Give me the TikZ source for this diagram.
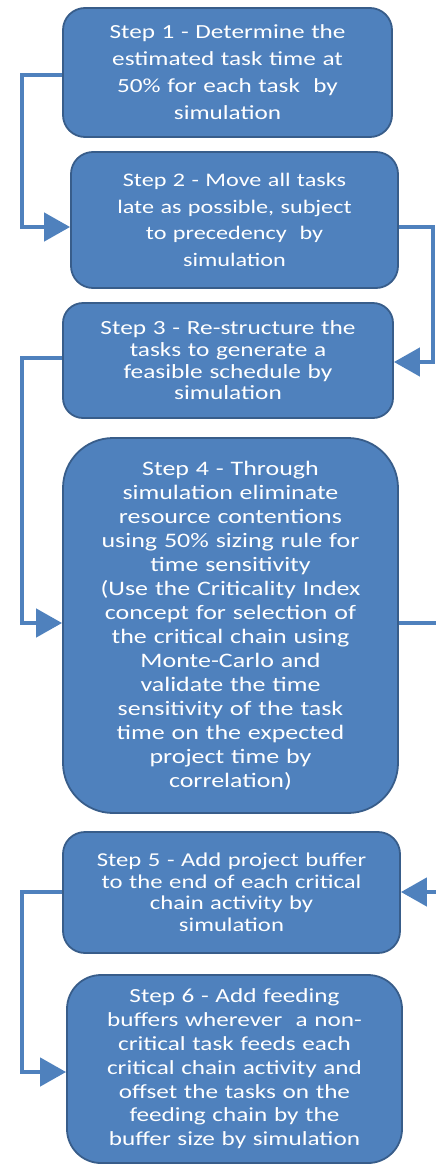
\documentclass[tikz,border=0pt]{standalone}
\usepackage{fontspec}
\setmainfont{Carlito}[FakeStretch=1.26]
\usetikzlibrary{arrows.meta}
\definecolor{fillblue}{HTML}{4F81BD}
\definecolor{edgeblue}{HTML}{385D8A}
\begin{document}
\begin{tikzpicture}[x=1pt,y=-1pt,
  stepbox/.style={draw=edgeblue, line width=1.8pt, fill=fillblue, text=white,
    align=center, inner sep=0pt, text width=310pt},
  conn/.style={draw=fillblue, line width=4.5pt, line join=miter,
    -{Triangle[length=26pt,width=28pt]}}]
\useasboundingbox (0,0) rectangle (436,1167);
\clip (0,0) rectangle (436,1167);

\node[stepbox, minimum width=329pt, minimum height=129pt, rounded corners=22pt,
  font=\fontsize{20}{27}\selectfont] (b1) at (227.5,72.5)
  {Step 1 - Determine the\\estimated task time at\\50\% for each task\ \ by\\simulation};

\node[stepbox, minimum width=327pt, minimum height=136pt, rounded corners=22pt,
  font=\fontsize{19.2}{26.7}\selectfont] (b2) at (234.5,220)
  {Step 2 - Move all tasks\\late as possible, subject\\to precedency\ \ by\\simulation};

\node[stepbox, minimum width=330pt, minimum height=115pt, rounded corners=20pt,
  font=\fontsize{20.1}{21.7}\selectfont] (b3) at (228,360.5)
  {Step 3 - Re-structure the\\tasks to generate a\\feasible schedule by\\simulation};

\node[stepbox, minimum width=335pt, minimum height=375pt, rounded corners=50pt,
  font=\fontsize{20.6}{24}\selectfont] (b4) at (230.5,625.5)
  {Step 4 - Through\\simulation eliminate\\resource contentions\\using 50\% sizing rule for\\time sensitivity\\(Use the Criticality Index\\concept for selection of\\the critical chain using\\Monte-Carlo and\\validate the time\\sensitivity of the task\\time on the expected\\project time by\\correlation)};

\node[stepbox, minimum width=337pt, minimum height=121pt, rounded corners=22pt,
  font=\fontsize{19.6}{21.5}\selectfont] (b5) at (231.5,892.5)
  {Step 5 - Add project buffer\\to the end of each critical\\chain activity by\\simulation};

\node[stepbox, minimum width=335pt, minimum height=188pt, rounded corners=34pt,
  font=\fontsize{20}{23.8}\selectfont] (b6) at (234.5,1069)
  {Step 6 - Add feeding\\buffers wherever\ \ a non-\\critical task feeds each\\critical chain activity and\\offset the tasks on the\\feeding chain by the\\buffer size by simulation};

\draw[conn] ([yshift=-2.5pt]b1.west) -- ([yshift=-2.5pt]b1.west -| 22,0) |- ([yshift=-7pt]b2.west);
\draw[conn] ([yshift=-7pt]b2.east) -- ([yshift=-7pt]b2.east -| 433,0) |- ([yshift=-1.5pt]b3.east);
\draw[conn] ([yshift=2.5pt]b3.west) -- ([yshift=2.5pt]b3.west -| 22,0) |- ([yshift=2.5pt]b4.west);
\draw[conn] ([yshift=2.5pt]b4.east) -- ([yshift=2.5pt]b4.east -| 441,0) |- ([yshift=0.5pt]b5.east);
\draw[conn] ([yshift=0.5pt]b5.west) -- ([yshift=0.5pt]b5.west -| 22,0) |- ([yshift=-3pt]b6.west);
\end{tikzpicture}
\end{document}
